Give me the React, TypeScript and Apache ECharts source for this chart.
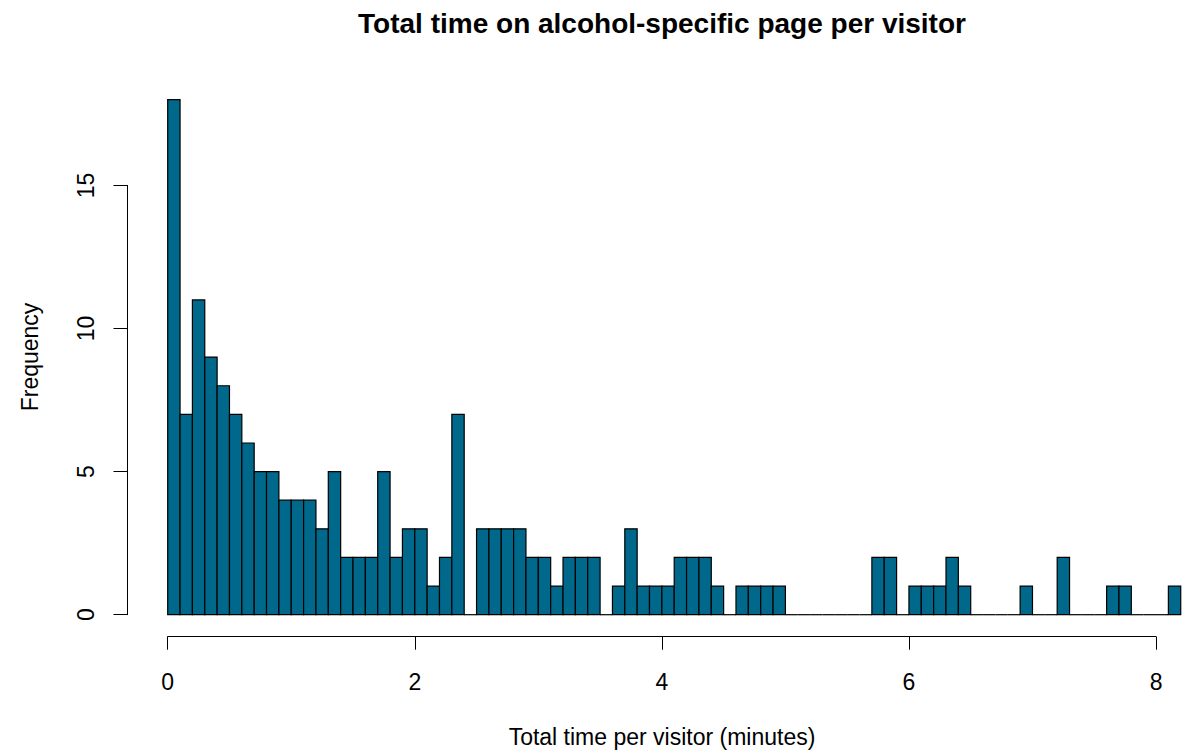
import React, { useEffect, useRef } from "react";
import * as echarts from "echarts";

// Histogram: bin width 0.1 minutes, bins from 0 to 8.2
const binWidth = 0.1;
const counts = [
  18, 7, 11, 9, 8, 7, 6, 5, 5, 4,
  4, 4, 3, 5, 2, 2, 2, 5, 2, 3,
  3, 1, 2, 7, 0, 3, 3, 3, 3, 2,
  2, 1, 2, 2, 2, 0, 1, 3, 1, 1,
  1, 2, 2, 2, 1, 0, 1, 1, 1, 1,
  0, 0, 0, 0, 0, 0, 0, 2, 2, 0,
  1, 1, 1, 2, 1, 0, 0, 0, 0, 1,
  0, 0, 2, 0, 0, 0, 1, 1, 0, 0,
  0, 1,
];
const xTicks = [0, 2, 4, 6, 8];
const yTicks = [0, 5, 10, 15];

const titleText = "Total time on alcohol-specific page per visitor";
const xLabel = "Total time per visitor (minutes)";
const yLabel = "Frequency";

const FONT = "'Liberation Sans', Arial, Helvetica, sans-serif";
const FILL = "#00688B";

export default function App() {
  const ref = useRef<HTMLDivElement>(null);

  useEffect(() => {
    if (!ref.current) return;
    const chart = echarts.init(ref.current, undefined, { renderer: "svg" });

    const data = counts.map((c, i) => [
      +(i * binWidth).toFixed(2),
      +((i + 1) * binWidth).toFixed(2),
      c,
    ]);
    const nBins = counts.length;
    const xMaxBins = +(nBins * binWidth).toFixed(2);

    const unitX = 123.54;
    const x0px = 167.7;
    const y0px = 614.7;
    const unitY = 28.62;
    const yMaxBars = 18;

    const option: any = {
      animation: false,
      backgroundColor: "#ffffff",
      grid: [
        {
          left: x0px,
          width: xMaxBins * unitX,
          top: y0px - yMaxBars * unitY,
          height: yMaxBars * unitY,
        },
        {
          left: x0px,
          width: xTicks[xTicks.length - 1] * unitX,
          top: 300,
          bottom: 751 - 636.7,
        },
        {
          left: 127.5,
          width: 10,
          top: y0px - yTicks[yTicks.length - 1] * unitY,
          height: yTicks[yTicks.length - 1] * unitY,
        },
      ],
      xAxis: [
        { gridIndex: 0, type: "value", min: 0, max: xMaxBins, show: false },
        {
          gridIndex: 1,
          type: "value",
          min: xTicks[0],
          max: xTicks[xTicks.length - 1],
          interval: 2,
          axisLine: { onZero: false, lineStyle: { color: "#000", width: 1 } },
          axisTick: { length: 13, lineStyle: { color: "#000", width: 1 } },
          axisLabel: {
            color: "#000",
            fontSize: 23,
            fontFamily: FONT,
            margin: 34,
          },
          splitLine: { show: false },
        },
        { gridIndex: 2, type: "value", min: 0, max: 1, show: false },
      ],
      yAxis: [
        { gridIndex: 0, type: "value", min: 0, max: yMaxBars, show: false },
        { gridIndex: 1, type: "value", min: 0, max: 1, show: false },
        {
          gridIndex: 2,
          type: "value",
          min: yTicks[0],
          max: yTicks[yTicks.length - 1],
          interval: 5,
          axisLine: { show: true, onZero: false, lineStyle: { color: "#000", width: 1 } },
          axisTick: { show: true, length: 14, lineStyle: { color: "#000", width: 1 } },
          axisLabel: {
            color: "#000",
            fontSize: 23,
            fontFamily: FONT,
            rotate: 90,
            margin: 30,
          },
          splitLine: { show: false },
        },
      ],
      graphic: [
        {
          type: "text",
          x: 662,
          y: 23,
          style: {
            text: titleText,
            font: `bold 28px ${FONT}`,
            fill: "#000",
            textAlign: "center",
            textVerticalAlign: "middle",
          },
        },
        {
          type: "text",
          x: 662,
          y: 737,
          style: {
            text: xLabel,
            font: `23px ${FONT}`,
            fill: "#000",
            textAlign: "center",
            textVerticalAlign: "middle",
          },
        },
        {
          type: "text",
          x: 30,
          y: 357,
          rotation: Math.PI / 2,
          style: {
            text: yLabel,
            font: `23px ${FONT}`,
            fill: "#000",
            textAlign: "center",
            textVerticalAlign: "middle",
          },
        },
      ],
      series: [
        {
          type: "custom",
          xAxisIndex: 0,
          yAxisIndex: 0,
          data,
          encode: { x: [0, 1], y: 2 },
          renderItem: (params: any, api: any) => {
            const a = api.value(0);
            const b = api.value(1);
            const c = api.value(2);
            const pTop = api.coord([a, c]);
            const pBot = api.coord([b, 0]);
            if (c === 0) {
              return {
                type: "line",
                shape: { x1: pTop[0], y1: pBot[1], x2: pBot[0], y2: pBot[1] },
                style: { stroke: "#000", lineWidth: 1.2 },
              };
            }
            return {
              type: "rect",
              shape: {
                x: pTop[0],
                y: pTop[1],
                width: pBot[0] - pTop[0],
                height: pBot[1] - pTop[1],
              },
              style: { fill: FILL, stroke: "#000", lineWidth: 1.2 },
            };
          },
        },
      ],
    };

    chart.setOption(option);
    return () => chart.dispose();
  }, []);

  return (
    <div
      ref={ref}
      style={{ position: "fixed", left: 0, top: 0, width: 1204, height: 751, background: "#fff" }}
    />
  );
}
